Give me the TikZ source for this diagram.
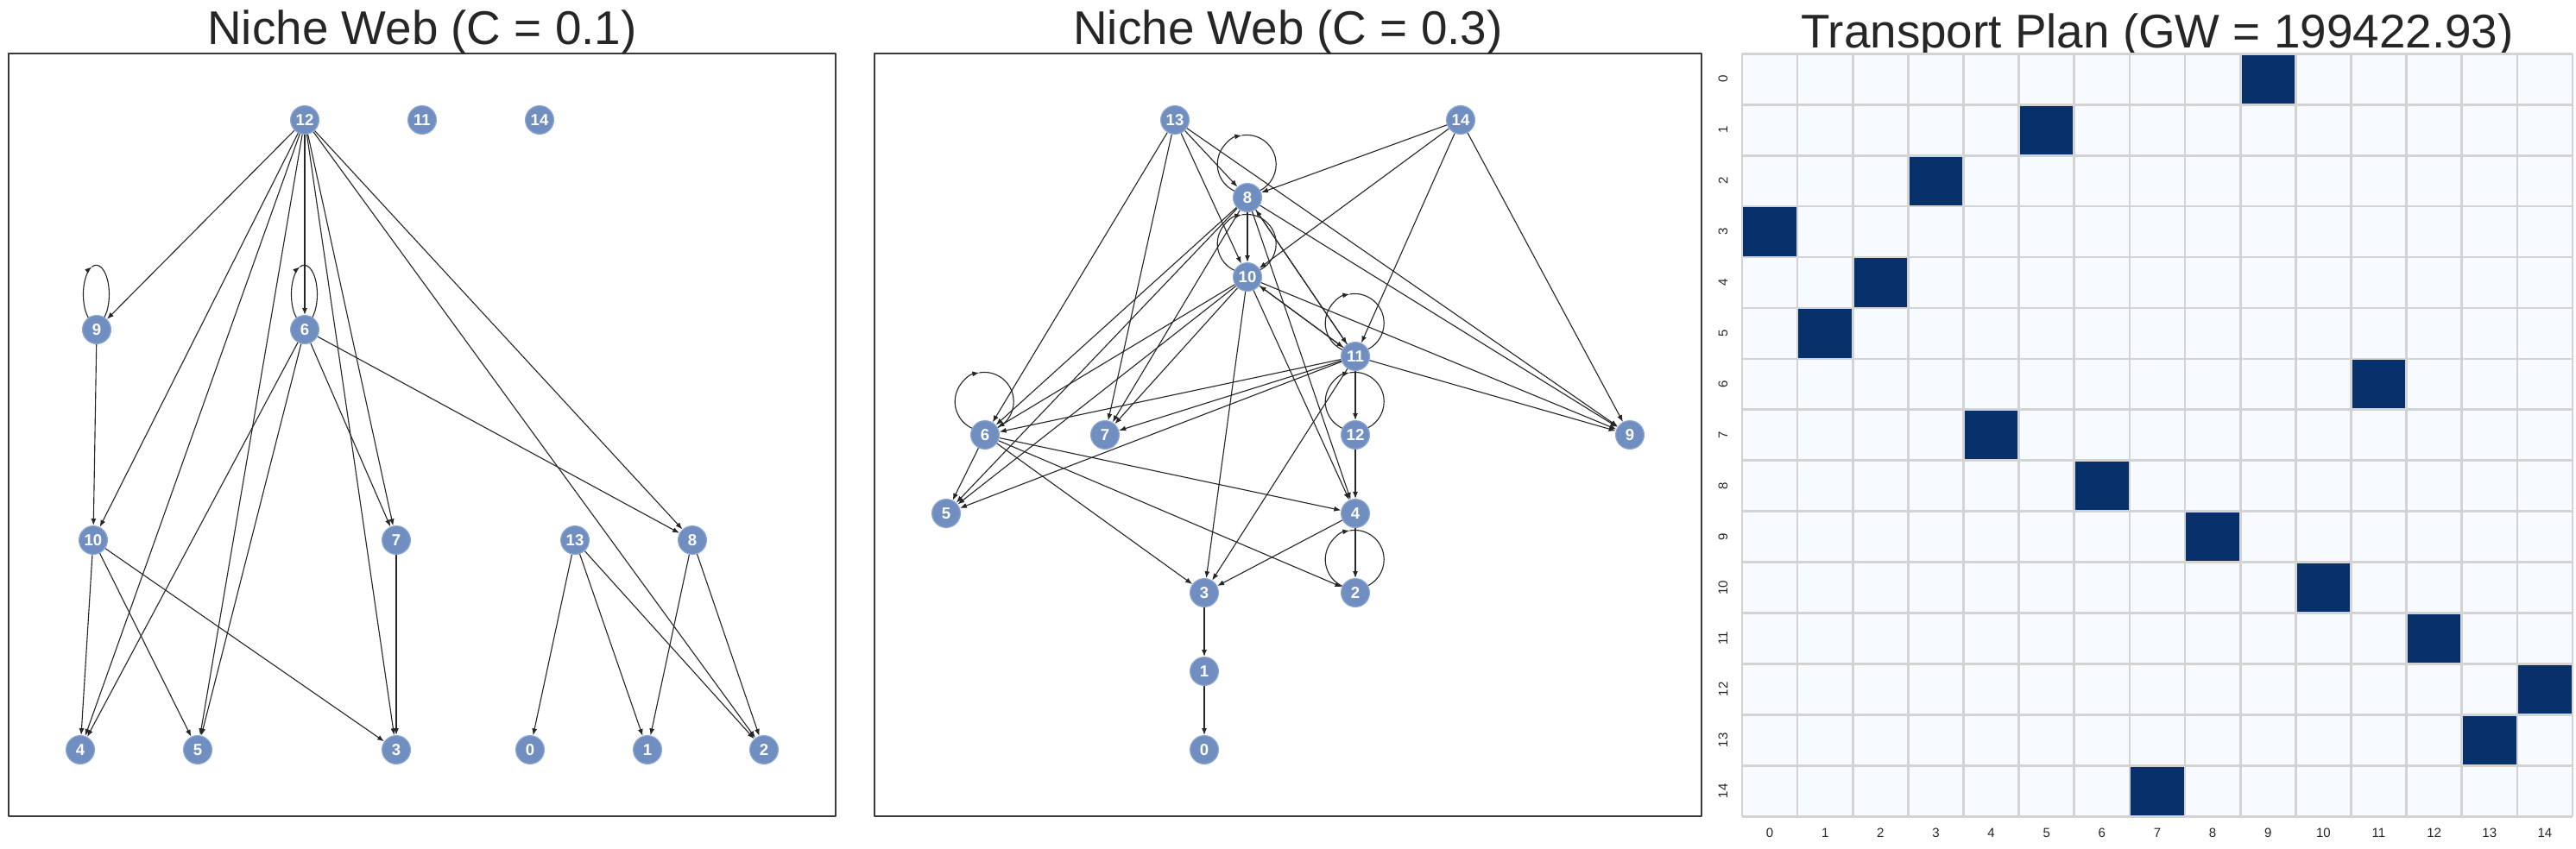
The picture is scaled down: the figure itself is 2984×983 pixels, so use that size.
\documentclass[tikz,border=0pt]{standalone}
\usepackage{fontspec}
\setmainfont{Liberation Sans}
\usepackage{tikz}
\usetikzlibrary{arrows.meta,backgrounds}
\usepackage{xcolor}
\tikzset{>={Latex[length=2mm,width=1.5mm]}}
\definecolor{nodeblue}{RGB}{112,142,192}
\definecolor{noderim}{RGB}{140,166,210}
\definecolor{panelgray}{HTML}{3A3A3A}
\definecolor{textgray}{HTML}{262626}
\definecolor{cellbg}{HTML}{F7FBFF}
\definecolor{cellon}{HTML}{08306B}
\definecolor{gridgray}{HTML}{D3D3D3}

\begin{document}
\begin{tikzpicture}[x=0.25mm, y=-0.25mm,
                    line cap=round, line join=round,
                    vertex/.style={circle, fill=nodeblue, draw=noderim, line width=0.3mm,
                                   minimum size=8.2mm, inner sep=0pt, text=white,
                                   font=\fontsize{13.2}{14}\selectfont\bfseries},
                    link/.style={->, black!85, line width=0.28mm},
                    linkline/.style={black!85, line width=0.28mm},
                    panelbox/.style={draw=panelgray, line width=0.5mm},
                    title/.style={anchor=base, inner sep=0pt, text=textgray,
                                  font=\fontsize{39}{40}\selectfont},
                    ticklabel/.style={inner sep=0pt, text=textgray,
                                      font=\fontsize{10.7}{11}\selectfont},
                    gridline/.style={draw=gridgray, line width=0.67mm, line cap=butt}]
  \useasboundingbox (0,0) rectangle (2984,983);

  % niche web, C = 0.1
  \draw[panelbox] (10,62) rectangle (968,946);
  \node[title] (ttlLo) at (489,51) {Niche Web (C = 0.1)};
  \foreach \n/\px/\py in {12/353/139, 11/489/139, 14/625/139, 9/112/382, 6/353/382,
                          10/108/626, 7/459/626, 13/666/626, 8/802/626,
                          4/93/869, 5/229/869, 3/459/869, 0/614/869, 1/750/869, 2/885/869}
    \node[vertex] (lo\n) at (\px,\py) {\n};
  \begin{pgfonlayer}{background}
    \foreach \a/\b in {12/9, 12/10, 12/4, 12/5, 12/6, 12/7, 12/3, 12/8, 12/2,
                       9/10, 6/4, 6/5, 6/7, 6/8, 10/4, 10/5, 10/3, 7/3,
                       13/0, 13/1, 13/2, 8/1, 8/2}
      \draw[link] (lo\a) -- (lo\b);
    \foreach \n in {9,6} {
      \draw[link] (lo\n.125) arc[start angle=232, end angle=110, x radius=3.75mm, y radius=8.5mm]
        coordinate (lo\n-top);
      \draw[linkline] (lo\n-top) arc[start angle=110, end angle=-52, x radius=3.75mm, y radius=8.5mm];
    }
  \end{pgfonlayer}

  % niche web, C = 0.3
  \draw[panelbox] (1013,62) rectangle (1971,946);
  \node[title] (ttlHi) at (1492,51) {Niche Web (C = 0.3)};
  \foreach \n/\px/\py in {13/1361/139, 14/1692/139, 8/1445/229, 10/1445/321, 11/1570/413,
                          6/1141/504, 7/1280/504, 12/1570/504, 9/1888/504,
                          5/1096/595, 4/1570/595, 3/1395/687, 2/1570/687,
                          1/1395/778, 0/1395/869}
    \node[vertex] (hi\n) at (\px,\py) {\n};
  \begin{pgfonlayer}{background}
    \foreach \a/\b in {13/6, 13/7, 13/10, 13/8, 13/9, 14/8, 14/10, 14/11, 14/9,
                       8/10, 8/6, 8/5, 8/7, 8/4, 8/11, 8/9,
                       10/6, 10/7, 10/5, 10/3, 10/4, 10/11, 10/9,
                       11/12, 11/6, 11/7, 11/5, 11/3, 11/10, 11/8, 11/9,
                       12/4, 6/5, 6/4, 6/3, 6/2, 4/3, 4/2, 3/1, 1/0}
      \draw[link] (hi\a) -- (hi\b);
    \foreach \n in {8,10,11,12,2,6} {
      \draw[link] (hi\n.153) arc[start angle=245, end angle=100, radius=8.5mm]
        coordinate (hi\n-top);
      \draw[linkline] (hi\n-top) arc[start angle=100, end angle=-65, radius=8.5mm];
    }
  \end{pgfonlayer}

  % transport plan
  \def\hx{2018}
  \def\hy{62.3}
  \def\cw{64.13}
  \def\ch{58.93}
  \node[title] (ttlPlan) at (2499,55) {Transport Plan (GW = 199422.93)};
  \fill[cellbg] (\hx,\hy) rectangle ({\hx+15*\cw},{\hy+15*\ch});
  \foreach \r/\c in {0/9, 1/5, 2/3, 3/0, 4/2, 5/1, 6/11, 7/4, 8/6, 9/8,
                     10/10, 11/12, 12/14, 13/13, 14/7}
    \fill[cellon] ({\hx+\c*\cw},{\hy+\r*\ch}) rectangle ++(\cw,\ch);
  \foreach \i in {0,...,15} {
    \draw[gridline] ({\hx+\i*\cw},\hy) -- ++(0,{15*\ch});
    \draw[gridline] (\hx,{\hy+\i*\ch}) -- ++({15*\cw},0);
  }
  \foreach \i in {0,...,14} {
    \node[ticklabel, rotate=90] (ytick\i) at (1996,{\hy+(\i+0.5)*\ch}) {\i};
    \node[ticklabel] (xtick\i) at ({\hx+(\i+0.5)*\cw},965) {\i};
  }
\end{tikzpicture}
\end{document}
